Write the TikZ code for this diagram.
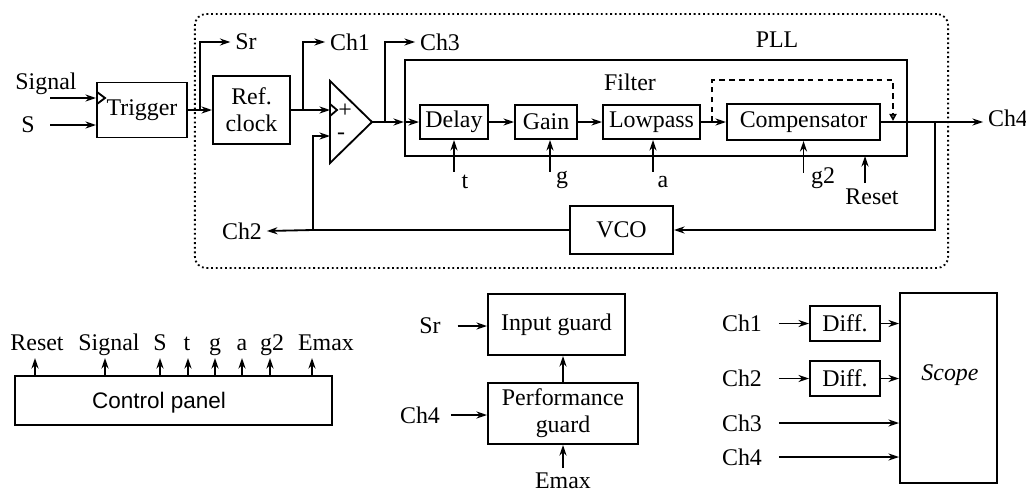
\documentclass[tikz,border=0pt]{standalone}
\usepackage{fontspec}
\setmainfont{Liberation Serif}
\newfontfamily\panelfont{Liberation Sans}
\usetikzlibrary{arrows.meta, positioning, calc}

\tikzset{
  blk/.style={draw, line width=1.4pt, inner sep=0pt, align=center},
  wire/.style={line width=1.3pt},
  arr/.style={wire, -{Stealth[length=7.5pt, width=5pt]}},
  dwire/.style={line width=1.3pt, dash pattern=on 4pt off 3pt, -{Triangle[open, length=5pt, width=5pt]}},
}

\begin{document}
\begin{tikzpicture}[x=0.025cm, y=-0.025cm, font=\fontsize{17}{19}\selectfont]
\useasboundingbox (0,0) rectangle (1026,494);

% PLL enclosure
\node[draw, dotted, line width=1.3pt, rounded corners=8pt, minimum width=18.825cm, minimum height=6.35cm] (pll) at (571.5,141) {};
\node (plllbl) at (777,40) {PLL};

% trigger and reference clock
\node[blk, minimum width=2.25cm, minimum height=1.375cm] (trig) at (142,110) {Trigger};
\node[blk, minimum width=1.925cm, minimum height=1.7cm] (ref) at (251.5,110) {Ref.\\clock};
\node (sig) at (46,84) {Signal};
\node (sin) at (28,125) {S};
\coordinate (sigw) at (50,98);
\coordinate (sinw) at (50,125);
\draw[arr] (sigw) -- (sigw -| trig.west);
\draw[wire] (97,92) -- (105,98) -- (97,104);
\draw[arr] (sinw) -- (sinw -| trig.west);
\draw[arr] (trig.east) -- (ref.west);
\node (sr) at (246,42) {Sr};
\coordinate (brsr) at (200,110);
\draw[arr] (brsr) |- (sr.west);

% comparator
\coordinate (ampP) at (330,110);
\coordinate (ampM) at (330,136);
\coordinate (ampO) at (372,122);
\draw[wire] (330,81) -- (ampO) -- (330,163) -- cycle;
\draw[wire] (330,104) -- (337,110) -- (330,116);
\node (plus) at (345,111) {+};
\node (minus) at (341,136) {-};
\draw[arr] (ref.east) -- (ampP);
\node (ch1) at (350,42) {Ch1};
\coordinate (brch1) at (303,110);
\draw[arr] (brch1) |- (ch1.west);

% filter chain
\node[blk, minimum width=12.55cm, minimum height=2.4cm] (filt) at (656,108) {};
\node (filtlbl) at (630,82) {Filter};
\node[blk, minimum width=1.7cm, minimum height=0.85cm] (delay) at (454,122) {Delay};
\node[blk, minimum width=1.55cm, minimum height=0.85cm] (gain) at (546,122) {Gain};
\node[blk, minimum width=2.425cm, minimum height=0.85cm] (lowp) at (651.5,122) {Lowpass};
\node[blk, minimum width=3.825cm, minimum height=0.9cm] (comp) at (803.5,122) {Compensator};
\draw[arr] (ampO) -- (ampO -| filt.west);
\draw[arr] (ampO -| filt.west) -- (delay.west);
\node (ch3) at (440,42) {Ch3};
\coordinate (brch3) at (385,122);
\draw[arr] (brch3) |- (ch3.west);
\draw[arr] (delay.east) -- (gain.west);
\draw[arr] (gain.east) -- (lowp.west);
\draw[arr] (lowp.east) -- (comp.west);
\coordinate (byin) at (712,122);
\coordinate (bytop) at (712,80);
\coordinate (byout) at (893,121);
\draw[dwire] (byin) -- (bytop) -| (byout);

% parameters
\node (prt) at (465,182) {t};
\node (prg) at (562,180) {g};
\node (pra) at (663,182) {a};
\node (prg2) at (823,178) {g2};
\node (prrst) at (872,197) {Reset};
\draw[arr] ($(delay.south)+(0,32)$) -- (delay.south);
\draw[arr] ($(gain.south)+(4,32)$) -- ($(gain.south)+(4,0)$);
\draw[arr] ($(lowp.south)+(1.5,32)$) -- ($(lowp.south)+(1.5,0)$);
\draw[arr] ($(comp.south)+(0,32)$) -- (comp.south);
\draw[arr] (865,183) -- (865,156);

% output and loop
\node (ch4) at (1008,118) {Ch4};
\draw[arr] (comp.east) -- (comp.east -| ch4.west);
\node[blk, minimum width=2.575cm, minimum height=1.2cm] (vco) at (621.5,230) {VCO};
\coordinate (brch4) at (935,122);
\draw[arr] (brch4) |- (vco.east);
\coordinate (fbk) at (313,230);
\draw[wire] (vco.west) -- (fbk);
\draw[arr] (fbk) |- (ampM);
\node (ch2) at (242,231) {Ch2};
\draw[arr] (fbk) -- (ch2.east);

% control panel
\node[blk, minimum width=7.925cm, minimum height=1.225cm] (cp) at (173.5,400.5) {};
\node[font=\panelfont\fontsize{16}{18}\selectfont] (cptxt) at (159,403) {Control panel};
\foreach \ax/\lx/\nm/\txt in {35/37/rs/Reset, 105/109/sg/Signal, 160/160/s/S, 188/187/t/t,
    215/215/g/g, 242/242/a/a, 270/272/gg/g2, 312/326/em/Emax} {
  \coordinate (cp\nm) at (\ax,376);
  \draw[arr] (cp\nm) -- ++(0,-18);
  \node[anchor=base] (lb\nm) at (\lx,350) {\txt};
}

% guards
\node[blk, minimum width=3.425cm, minimum height=1.525cm] (inguard) at (556.5,324.5) {Input guard};
\node[blk, minimum width=3.75cm, minimum height=1.525cm] (perfguard) at (563,413.5) {Performance\\guard};
\draw[arr] (perfguard.north) -- (perfguard.north |- inguard.south);
\node (gsr) at (430,326) {Sr};
\node (gch4) at (420,415) {Ch4};
\node (gem) at (563,481) {Emax};
\draw[arr] ($(gsr.east)+(12,0)$) -- (gsr.east -| inguard.west);
\draw[arr] ($(gch4.east)+(6,0)$) -- (gch4.east -| perfguard.west);
\draw[arr] (gem.north) -- (perfguard.south);

% scope
\node[blk, minimum width=2.425cm, minimum height=4.75cm] (scope) at (948.5,388) {};
\node[font=\itshape\fontsize{17}{19}\selectfont] (scopetxt) at (950,375) {Scope};
\node[blk, minimum width=1.75cm, minimum height=0.875cm] (dif1) at (845,323.5) {Diff.};
\node[blk, minimum width=1.75cm, minimum height=0.875cm] (dif2) at (845,378.5) {Diff.};
\node (sch1) at (742,323.5) {Ch1};
\node (sch2) at (742,378.5) {Ch2};
\node (sch3) at (742,423) {Ch3};
\node (sch4) at (742,457) {Ch4};
\draw[arr] ($(sch1.east)+(12,0)$) -- (dif1.west);
\draw[arr] ($(sch2.east)+(12,0)$) -- (dif2.west);
\draw[arr] ($(sch3.east)+(12,0)$) -- (sch3.east -| scope.west);
\draw[arr] ($(sch4.east)+(12,0)$) -- (sch4.east -| scope.west);
\draw[arr] (dif1.east) -- (dif1.east -| scope.west);
\draw[arr] (dif2.east) -- (dif2.east -| scope.west);
\end{tikzpicture}
\end{document}
